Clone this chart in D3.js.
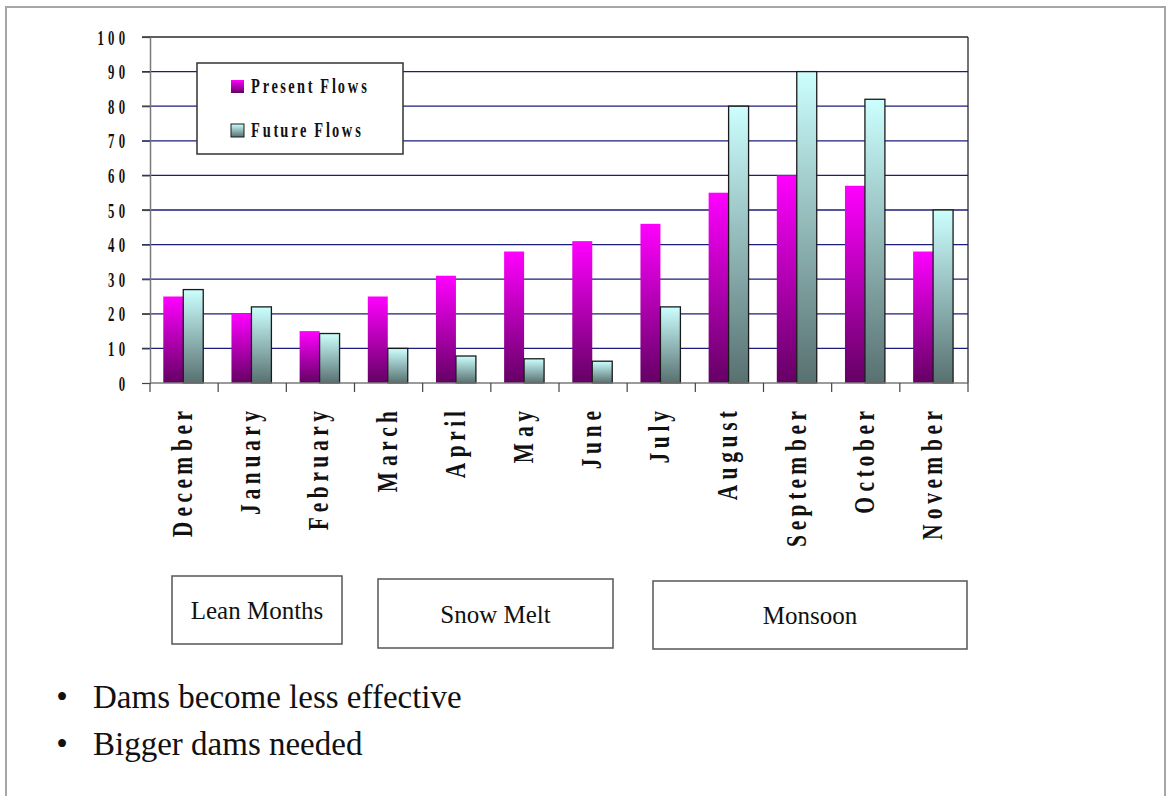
<!DOCTYPE html>
<html>
<head>
<meta charset="utf-8">
<script src="https://cdn.jsdelivr.net/npm/d3@7"></script>
<style>
  html, body { margin: 0; padding: 0; background: #ffffff; }
  svg { display: block; }
</style>
</head>
<body>
<svg id="chart" width="1171" height="796"></svg>
<script>
// ---- data ----
const months = ["December", "January", "February", "March", "April", "May",
                "June", "July", "August", "September", "October", "November"];
const presentFlows = [25, 20, 15, 25, 31, 38, 41, 46, 55, 60, 57, 38];
const futureFlows  = [27, 22, 14.3, 10, 7.8, 7, 6.3, 22, 80, 90, 82, 50];
const yTicks = [0, 10, 20, 30, 40, 50, 60, 70, 80, 90, 100];
const seriesNames = ["Present Flows", "Future Flows"];
const seasonNames = ["Lean Months", "Snow Melt", "Monsoon"];
const bulletPoints = ["Dams become less effective", "Bigger dams needed"];

// ---- layout ----
const plot = { left: 150, right: 968, top: 37, bottom: 383 };
const seasonBoxes = [
  { x0: 172, x1: 342, y0: 576, y1: 644 },
  { x0: 378, x1: 613, y0: 579, y1: 648 },
  { x0: 653, x1: 967, y0: 581, y1: 649 }
];

// pick the first installed Times-like serif face
const measureCtx = document.createElement("canvas").getContext("2d");
function fontAvailable(name) {
  const probe = "abcdefghijklmnopqrstuvwxyzMWQ0123456789";
  return ["monospace", "sans-serif"].some(base => {
    measureCtx.font = `40px ${base}`;
    const w0 = measureCtx.measureText(probe).width;
    measureCtx.font = `40px "${name}", ${base}`;
    return measureCtx.measureText(probe).width !== w0;
  });
}
const serifFace = ["Liberation Serif", "Times New Roman", "Tinos", "DejaVu Serif"]
  .find(fontAvailable) || "serif";
const SERIF = serifFace === "serif" ? "serif" : `"${serifFace}", serif`;

const svg = d3.select("#chart").style("font-family", SERIF);
const defs = svg.append("defs");

// vertical gradients, one per series, spanning each bar's own box
function vGrad(id, top, bottom) {
  const g = defs.append("linearGradient").attr("id", id)
    .attr("x1", 0).attr("y1", 0).attr("x2", 0).attr("y2", 1);
  g.append("stop").attr("offset", "0%").attr("stop-color", top);
  g.append("stop").attr("offset", "100%").attr("stop-color", bottom);
}
vGrad("gradPresent", "#ff00ff", "#640064");
vGrad("gradFuture", "#ccffff", "#587070");

// page frame
svg.append("rect").attr("x", 6).attr("y", 7).attr("width", 1159).attr("height", 820)
  .attr("fill", "none").attr("stroke", "#a6a6a6").attr("stroke-width", 2);

const x = d3.scaleBand().domain(months).range([plot.left, plot.right]);
const y = d3.scaleLinear().domain([0, 100]).range([plot.bottom, plot.top]);
const bw = x.bandwidth();

// condensed, letter-spaced text: each glyph placed individually
function spacedPositions(str, font, advScale, gap) {
  measureCtx.font = font;
  const xs = [];
  let pos = 0, lastW = 0;
  for (const ch of str) {
    xs.push(pos);
    lastW = measureCtx.measureText(ch).width;
    pos += lastW * advScale + gap;
  }
  const total = xs.length ? xs[xs.length - 1] + lastW : 0;
  return { xs, total };
}
function spacedText(parent, str, opts) {
  const font = `${opts.weight} ${opts.size}px ${SERIF}`;
  const p = spacedPositions(str, font, opts.adv, opts.gap);
  const shift = opts.anchor === "end" ? -p.total : 0;
  return parent.append("text")
    .attr("transform", opts.transform)
    .attr("x", p.xs.map(v => (v + shift).toFixed(2)).join(" "))
    .attr("y", 0)
    .style("font-family", SERIF)
    .style("font-size", opts.size + "px")
    .style("font-weight", opts.weight)
    .attr("fill", "#111")
    .text(str);
}

// horizontal grid lines
svg.append("g").selectAll("line")
  .data(yTicks.filter(t => t > 0 && t < 100))
  .join("line")
  .attr("x1", plot.left - 8).attr("x2", plot.right)
  .attr("y1", d => y(d)).attr("y2", d => y(d))
  .attr("stroke", "#1c1c7a").attr("stroke-width", 1.3);

// top and right frame of the plot area
svg.append("line").attr("x1", plot.left - 8).attr("x2", plot.right)
  .attr("y1", y(100)).attr("y2", y(100)).attr("stroke", "#2a2a2a").attr("stroke-width", 1.3);
svg.append("line").attr("x1", plot.right).attr("x2", plot.right)
  .attr("y1", y(100)).attr("y2", y(0)).attr("stroke", "#2a2a2a").attr("stroke-width", 1.3);

// bars
const barOffset = 0.195 * bw, barW = 0.293 * bw;
svg.append("g").selectAll("rect")
  .data(presentFlows)
  .join("rect")
  .attr("x", (d, i) => x(months[i]) + barOffset)
  .attr("y", d => y(d))
  .attr("width", barW)
  .attr("height", d => y(0) - y(d))
  .attr("fill", "url(#gradPresent)");
svg.append("g").selectAll("rect")
  .data(futureFlows)
  .join("rect")
  .attr("x", (d, i) => x(months[i]) + barOffset + barW)
  .attr("y", d => y(d))
  .attr("width", barW)
  .attr("height", d => y(0) - y(d))
  .attr("fill", "url(#gradFuture)")
  .attr("stroke", "#1a1a1a").attr("stroke-width", 1.3);

// y axis
const yAxis = svg.append("g").attr("transform", `translate(${plot.left},0)`)
  .call(d3.axisLeft(y).tickValues(yTicks).tickSize(8).tickSizeOuter(0).tickFormat(""));
yAxis.select(".domain").attr("stroke", "#7a7a7a").attr("stroke-width", 1.5);
yAxis.selectAll(".tick line").attr("stroke", "#444").attr("stroke-width", 1.2);

// x axis (category boundaries as ticks)
const xAxis = svg.append("g").attr("transform", `translate(0,${plot.bottom})`);
xAxis.append("line").attr("x1", plot.left).attr("x2", plot.right)
  .attr("y1", 0).attr("y2", 0).attr("stroke", "#7a7a7a").attr("stroke-width", 1.5);
xAxis.selectAll("line.tick")
  .data(months.concat(["end"]))
  .join("line").attr("class", "tick")
  .attr("x1", (d, i) => i < months.length ? x(d) : plot.right)
  .attr("x2", (d, i) => i < months.length ? x(d) : plot.right)
  .attr("y1", 0).attr("y2", 9)
  .attr("stroke", "#444").attr("stroke-width", 1.2);

// y tick labels
const yLab = svg.append("g");
yTicks.forEach(t => {
  spacedText(yLab, String(t), {
    size: 22, weight: "bold", adv: 1.25, gap: 4.5, anchor: "end",
    transform: `translate(125,${y(t) + 7.5}) scale(0.58,1)`
  });
});

// month labels, rotated to read upwards
const xLab = svg.append("g");
months.forEach(m => {
  const cx = x(m) + bw / 2 - 2;
  spacedText(xLab, m, {
    size: 29, weight: "bold", adv: 1.15, gap: 4, anchor: "end",
    transform: `translate(${cx + 10},411) rotate(-90) scale(0.74,1)`
  });
});

// legend
const leg = svg.append("g");
leg.append("rect").attr("x", 197).attr("y", 63).attr("width", 206).attr("height", 91)
  .attr("fill", "#fff").attr("stroke", "#333").attr("stroke-width", 1.5);
const legFills = ["url(#gradPresent)", "url(#gradFuture)"];
const legRowY = [80, 124];
seriesNames.forEach((name, i) => {
  leg.append("rect").attr("x", 231).attr("y", legRowY[i]).attr("width", 13).attr("height", 13)
    .attr("fill", legFills[i])
    .attr("stroke", i === 1 ? "#1a1a1a" : "none").attr("stroke-width", 1);
  spacedText(leg, name, {
    size: 20, weight: "bold", adv: 1.2, gap: 1.6, anchor: "start",
    transform: `translate(251,${legRowY[i] + 13}) scale(0.72,1)`
  });
});

// season boxes
const seasons = svg.append("g");
seasonNames.forEach((name, i) => {
  const b = seasonBoxes[i];
  seasons.append("rect").attr("x", b.x0).attr("y", b.y0)
    .attr("width", b.x1 - b.x0).attr("height", b.y1 - b.y0)
    .attr("fill", "#fff").attr("stroke", "#555").attr("stroke-width", 1.5);
  seasons.append("text")
    .attr("x", (b.x0 + b.x1) / 2).attr("y", (b.y0 + b.y1) / 2 + 9)
    .attr("text-anchor", "middle")
    .style("font-family", SERIF)
    .style("font-size", "25px").attr("fill", "#111")
    .text(name);
});

// bullet points
const bullets = svg.append("g").attr("fill", "#111");
const bulletBaselines = [708, 755];
bulletPoints.forEach((txt, i) => {
  bullets.append("text").attr("x", 62).attr("y", bulletBaselines[i])
    .attr("text-anchor", "middle").style("font-family", SERIF)
    .style("font-size", "33px").text("\u2022");
  bullets.append("text").attr("x", 93).attr("y", bulletBaselines[i])
    .style("font-family", SERIF).style("font-size", "33px").text(txt);
});
</script>
</body>
</html>
